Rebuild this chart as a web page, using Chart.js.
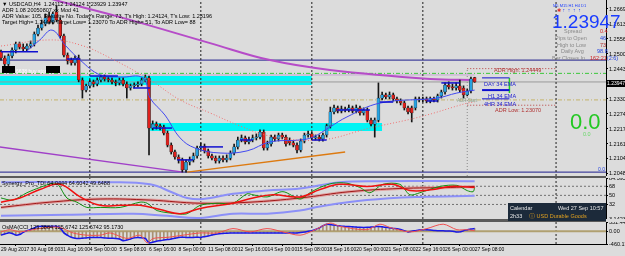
<!DOCTYPE html>
<html><head><meta charset="utf-8">
<script src="https://cdn.jsdelivr.net/npm/chart.js@4.4.1/dist/chart.umd.min.js"></script>
<style>
html,body{margin:0;padding:0;background:#dcdcdc;}
#wrap{position:relative;width:625px;height:256px;overflow:hidden;font-family:"Liberation Sans",Arial,sans-serif;background:#dcdcdc;}
canvas{position:absolute;left:0;}
.sep{position:absolute;left:0;width:606px;background:#5a5a5a;}
.t{position:absolute;white-space:nowrap;font-size:5.5px;line-height:6px;color:#000;}
</style></head><body>
<div id="wrap">
 <canvas id="cMain" width="625" height="176" style="top:0"></canvas>
 <div class="sep" style="top:176px;height:2px"></div>
 <canvas id="cSyn" width="625" height="41" style="top:178px"></canvas>
 <div class="sep" style="top:219px;height:3px"></div>
 <canvas id="cOsma" width="625" height="34" style="top:222px"></canvas>

 <div class="t" style="left:2px;top:1px">&#9660; USDCAD,H4&nbsp; 1.24112 1.24124 1.23929 1.23947</div>
 <div class="t" style="left:2px;top:7px">ADR 1.08 20050807 xx Mod 41</div>
 <div class="t" style="left:2px;top:13px">ADR Value: 105, Resultre No. Today's Range: 73, T's High: 1.24124, T's Low: 1.23196</div>
 <div class="t" style="left:2px;top:19px">Target High= 1.24449 Target Low= 1.23070 To ADR High= 51, To ADR Low= 88</div>

 <div class="t" style="left:2px;top:66px;background:#000;width:13px;height:7px"></div>
 <div class="t" style="left:16px;top:68px;color:#fff;font-size:5px">6638 buy stop</div>
 <div class="t" style="left:46px;top:66px;background:#000;width:14px;height:7px"></div>

 <div class="t" style="left:553px;top:3px;color:#1a3cff;font-size:4px">M5 M15 H1 H4 D1</div>
 <div class="t" style="left:557px;top:7px;color:#1a3cff;font-size:5px"><span style="color:#e02020">&#10033;</span> &#8593;&nbsp; &#8593;&nbsp; &#8593;&nbsp; &#8593;</div>
 <div class="t" style="left:552px;top:12px;color:#1a3cff;font-size:19px;line-height:19px">1.23947</div>
 <div class="t" style="left:564px;top:28px;color:#8a8a8a">Spread</div><div class="t" style="left:600px;top:28px;color:#d02020">0.4</div>
 <div class="t" style="left:555px;top:35px;color:#8a8a8a">Pips to Open</div><div class="t" style="left:600px;top:35px;color:#2040e0">46</div>
 <div class="t" style="left:557px;top:42px;color:#8a8a8a">High to Low</div><div class="t" style="left:600px;top:42px;color:#b03030">73</div>
 <div class="t" style="left:561px;top:48px;color:#8a8a8a">Daily Avg</div><div class="t" style="left:597px;top:48px;color:#2040e0">98.8</div>
 <div class="t" style="left:552px;top:55px;color:#8a8a8a">Bar Closes In</div><div class="t" style="left:590px;top:55px;color:#d02020">162:21<span style="color:#2040e0">(2:6)</span></div>

 <div class="t" style="left:494px;top:67px;color:#b03030">ADR High: 1.24449</div>
 <div class="t" style="left:484px;top:81px;color:#2020d0">DAY 34 EMA</div>
 <div class="t" style="left:488px;top:93px;color:#2020d0">H1 34 EMA</div>
 <div class="t" style="left:484px;top:101px;color:#2020d0">4HR 34 EMA</div>
 <div class="t" style="left:457px;top:98px;color:#8aa08a;font-size:4.5px">ADR Start</div>
 <div class="t" style="left:495px;top:107px;color:#b03030">ADR Low: 1.23070</div>
 <div class="t" style="left:570px;top:111px;color:#22c822;font-size:22px;line-height:22px">0.0</div>
 <div class="t" style="left:583px;top:131px;color:#66d866">0.0</div>
 <div class="t" style="left:598px;top:166px;color:#2040e0;font-size:5px">0.0</div>
 <div class="t" style="left:607px;top:80px;background:#000;color:#fff;width:18px;height:7px;font-size:5px;line-height:7px">1.23947</div>

 <div class="t" style="left:2px;top:180px">Synergy_Pro_TDI 64.0444 64.6042 49.6488</div>
 <div class="t" style="left:2px;top:224px">OsMA(CCI 125.3884 125.6742 125.6742 95.1730</div>

 <div class="t" style="left:508px;top:203px;width:98px;height:18px;background:#1c2a3a"></div>
 <div class="t" style="left:510px;top:205px;color:#e8e8e8">Calendar</div>
 <div class="t" style="left:558px;top:205px;color:#e8e8e8">Wed 27 Sep 10:57</div>
 <div class="t" style="left:510px;top:213px;color:#e8e8e8">2h33</div>
 <div class="t" style="left:529px;top:213px;color:#e0a020">&#9432; USD Durable Goods</div>
</div>
<script>
// ---------- data ----------
const tickIdx = [0,8,16,24,32,40,48,56,64,72,80,88,96,104,112,120,128];
const tickLabels = ['29 Aug 2017','30 Aug 08:00','31 Aug 16:00','4 Sep 00:00','5 Sep 08:00','6 Sep 16:00','8 Sep 00:00','11 Sep 08:00','12 Sep 16:00','14 Sep 00:00','15 Sep 08:00','18 Sep 16:00','20 Sep 00:00','21 Sep 08:00','22 Sep 16:00','26 Sep 00:00','27 Sep 08:00'];
const priceTicks = [1.26695,1.26130,1.25565,1.25000,1.24435,1.23305,1.22740,1.22175,1.21610,1.21045,1.20480];
const synTicks = [84.3957,68,50,32,3.1423];
const osmaTicks = [331.4461,0,-460.1713];

const opens = [1.2508,1.2485,1.2462,1.2493,1.2515,1.2538,1.2526,1.2519,1.2530,1.2538,
1.2575,1.2598,1.2613,1.2643,1.2621,1.2658,1.2628,1.2568,1.2496,1.2477,
1.2466,1.2485,1.2402,1.2364,1.2380,1.2395,1.2387,1.2402,1.2413,1.2406,
1.2402,1.2395,1.2391,1.2402,1.2387,1.2372,1.2380,1.2383,1.2387,1.2402,
1.2410,1.2221,1.2236,1.2229,1.2225,1.2202,1.2157,1.2131,1.2112,1.2101,
1.2063,1.2093,1.2101,1.2116,1.2146,1.2153,1.2135,1.2116,1.2108,1.2097,
1.2108,1.2101,1.2108,1.2127,1.2150,1.2176,1.2184,1.2169,1.2176,1.2184,
1.2187,1.2206,1.2146,1.2161,1.2187,1.2180,1.2195,1.2187,1.2176,1.2165,
1.2157,1.2138,1.2172,1.2195,1.2199,1.2184,1.2187,1.2180,1.2195,1.2229,
1.2282,1.2297,1.2285,1.2293,1.2289,1.2297,1.2285,1.2297,1.2278,1.2289,
1.2251,1.2236,1.2251,1.2334,1.2346,1.2338,1.2346,1.2331,1.2323,1.2316,
1.2297,1.2297,1.2297,1.2331,1.2327,1.2331,1.2323,1.2331,1.2327,1.2342,
1.2357,1.2383,1.2376,1.2372,1.2380,1.2372,1.2346,1.2361,1.24112];
const closes = [1.2485,1.2462,1.2493,1.2515,1.2538,1.2526,1.2519,1.2530,1.2538,1.2575,
1.2598,1.2613,1.2636,1.2621,1.2651,1.2628,1.2568,1.2496,1.2474,1.2466,
1.2485,1.2402,1.2364,1.2380,1.2395,1.2387,1.2402,1.2413,1.2406,1.2402,
1.2395,1.2391,1.2402,1.2387,1.2372,1.2380,1.2383,1.2387,1.2402,1.2410,
1.2221,1.2236,1.2229,1.2225,1.2202,1.2157,1.2131,1.2112,1.2101,1.2063,
1.2093,1.2101,1.2116,1.2146,1.2153,1.2135,1.2116,1.2108,1.2097,1.2108,
1.2101,1.2108,1.2127,1.2150,1.2176,1.2184,1.2169,1.2176,1.2184,1.2187,
1.2206,1.2146,1.2161,1.2187,1.2180,1.2195,1.2187,1.2161,1.2165,1.2157,
1.2138,1.2172,1.2195,1.2199,1.2184,1.2187,1.2180,1.2195,1.2229,1.2282,
1.2297,1.2285,1.2293,1.2289,1.2297,1.2285,1.2297,1.2278,1.2289,1.2251,
1.2236,1.2251,1.2334,1.2346,1.2338,1.2346,1.2331,1.2323,1.2316,1.2297,
1.2282,1.2278,1.2331,1.2327,1.2331,1.2323,1.2331,1.2327,1.2342,1.2357,
1.2383,1.2376,1.2372,1.2380,1.2364,1.2346,1.2361,1.2406,1.23947];
const highs = [1.2515,1.2493,1.2500,1.2523,1.2545,1.2545,1.2538,1.2538,1.2549,1.2583,
1.2609,1.2628,1.2651,1.2658,1.2658,1.2681,1.2636,1.2575,1.2504,1.2485,
1.2493,1.2496,1.2410,1.2387,1.2402,1.2402,1.2410,1.2421,1.2421,1.2413,
1.2410,1.2402,1.2410,1.2410,1.2395,1.2387,1.2391,1.2395,1.2410,1.2421,
1.2417,1.2248,1.2244,1.2236,1.2232,1.2210,1.2165,1.2138,1.2120,1.2108,
1.2101,1.2112,1.2127,1.2153,1.2165,1.2161,1.2142,1.2123,1.2116,1.2116,
1.2116,1.2120,1.2135,1.2161,1.2187,1.2195,1.2191,1.2187,1.2195,1.2199,
1.2214,1.2214,1.2172,1.2195,1.2195,1.2202,1.2202,1.2195,1.2184,1.2172,
1.2165,1.2180,1.2202,1.2210,1.2206,1.2195,1.2195,1.2202,1.2236,1.2300,
1.2308,1.2304,1.2304,1.2300,1.2308,1.2304,1.2308,1.2304,1.2297,1.2297,
1.2259,1.2259,1.2391,1.2357,1.2353,1.2357,1.2353,1.2338,1.2331,1.2323,
1.2304,1.2304,1.2338,1.2338,1.2338,1.2338,1.2338,1.2338,1.2349,1.2364,
1.2391,1.2395,1.2387,1.2391,1.2402,1.2380,1.2368,1.2413,1.24124];
const lows = [1.2477,1.2455,1.2455,1.2485,1.2504,1.2519,1.2511,1.2511,1.2523,1.2530,
1.2568,1.2590,1.2606,1.2613,1.2613,1.2621,1.2560,1.2489,1.2462,1.2458,
1.2458,1.2395,1.2334,1.2357,1.2372,1.2376,1.2380,1.2395,1.2398,1.2395,
1.2387,1.2380,1.2383,1.2380,1.2334,1.2364,1.2372,1.2376,1.2380,1.2395,
1.2120,1.2214,1.2217,1.2214,1.2195,1.2150,1.2123,1.2104,1.2089,1.2055,
1.2055,1.2082,1.2093,1.2108,1.2138,1.2127,1.2108,1.2101,1.2089,1.2089,
1.2093,1.2093,1.2101,1.2120,1.2142,1.2169,1.2161,1.2161,1.2169,1.2176,
1.2180,1.2138,1.2138,1.2153,1.2172,1.2172,1.2180,1.2153,1.2157,1.2150,
1.2127,1.2131,1.2165,1.2187,1.2176,1.2176,1.2172,1.2172,1.2187,1.2221,
1.2274,1.2278,1.2278,1.2282,1.2282,1.2278,1.2278,1.2270,1.2270,1.2244,
1.2229,1.2187,1.2244,1.2327,1.2331,1.2331,1.2323,1.2316,1.2308,1.2289,
1.2274,1.2244,1.2289,1.2319,1.2319,1.2316,1.2316,1.2319,1.2319,1.2334,
1.2349,1.2368,1.2364,1.2364,1.2357,1.2334,1.2342,1.2353,1.23929];

// moving averages / trend objects: [bar index, price]
const emaBlue = [[7,1.2511],[10.5,1.2553],[13.8,1.2590],[17.3,1.2534],[21.4,1.2477],[26.8,1.2421],[32.2,1.2413],[38.4,1.2410],[40.3,1.2334],[44.3,1.2270],[48.4,1.2184],[52.4,1.2146],[59.2,1.2127],[66.5,1.2135],[72.7,1.2169],[80.8,1.2176],[84.3,1.2187],[88.9,1.2225],[93.5,1.2263],[102.4,1.2315],[117.8,1.2334],[123.2,1.2353],[128,1.2364]];
const maDotted = [[0,1.2530],[13.2,1.2553],[21.4,1.2534],[29.5,1.2485],[40.3,1.2402],[48.4,1.2327],[56.5,1.2278],[64.6,1.2229],[72.7,1.2191],[86.2,1.2176],[99.7,1.2221],[113.2,1.2263],[126,1.2315],[128,1.2319]];
const maPurple = [[11.9,1.2715],[14.6,1.2703],[32.2,1.2639],[56.5,1.2541],[72.7,1.2477],[88.9,1.2440],[116,1.2406],[128,1.2402]];
const trendPurple = [[-0.3,1.2150],[49.2,1.2055]];
const trendOrange = [[50.3,1.2055],[93,1.2131]];
// horizontal levels
const levelNavy = [1.2477, 1.2055];
const levelGreen = 1.2427;
const levelOlive = 1.2327;
const levelLavender = 1.2421;
const bidPrice = 1.23947;
const adrHigh = 1.24449, adrLow = 1.23070;
const adrFrom = 126, adrTo = 150;
// supply/demand zones
const zoneStart = [-0.3, 40.3], zoneEnd = [84, 103], zoneTop = [1.2417, 1.2240], zoneBottom = [1.2383, 1.2210];
// short pivot segments [from, to, price]
const pivots = [[0,10,1.2508],[17.8,21.4,1.2481],[24,31.6,1.2417],[35.7,40.3,1.2372],[41,46.2,1.2221],[47.6,51.9,1.2101],[53.8,60,1.2150],[64.6,68,1.2176],[84,88,1.2176],[90.8,99.7,1.2289],[102.4,106,1.2319],[115,118,1.2323],[119,124,1.2391]];
const emaTags = [[130,137.4,1.2410],[130,137.4,1.2364],[130,137.4,1.2331]];
const weekSeps = [24, 54, 84, 114, 150];
const dayStart = 126;

// Synergy TDI
const tdiGreen = [[0,44.8],[3.2,40.6],[7,55.2],[10.5,65.6],[14,74],[15.4,71.9],[17.8,44.8],[20.5,36.5],[23.2,26.1],[26.8,26.1],[32.2,26.1],[37.6,36.5],[39.5,34.4],[42.2,19.8],[47.6,13.6],[50.3,13.6],[53.8,30.2],[58.4,34.4],[62.7,34.4],[66.5,53.1],[68.1,51.1],[71.9,46.9],[76.2,57.3],[80.8,42.7],[83.5,55.2],[86.2,65.6],[89.7,74],[93.5,74],[97,65.6],[99.7,55.2],[103.2,71.9],[107.8,71.9],[110.5,51.1],[113.2,55.2],[118.6,67.7],[123.2,69.8],[126,59.4],[127.6,57.3],[128,65.6]];
const tdiRed = [[0,36.5],[5.1,44.8],[10.5,61.5],[15.9,71.9],[21.4,46.9],[26.8,30.2],[32.2,30.2],[37.6,30.2],[43,21.9],[48.4,13.6],[53.8,24],[62.7,34.4],[68.1,44.8],[73.5,51.1],[80.8,46.9],[86.2,61.5],[91.6,71.9],[98.9,67.7],[105.9,71.9],[110.5,59.4],[116.8,61.5],[121.4,67.7],[128,65.6]];
const tdiBase = [[0,26.1],[13.2,36.5],[26.8,42.7],[40.3,40.6],[53.8,34.4],[67.3,36.5],[80.8,44.8],[94.3,57.3],[107.8,63.6],[121.4,65.6],[128,67.7]];
const tdiUpper = [[0,76.1],[29.5,76.1],[40.3,71.9],[46.5,55.2],[50.3,44.8],[54.6,42.7],[62.7,53.1],[71.9,59.4],[80.8,63.6],[91.6,76.1],[102.4,78.2],[126,78.2],[128,78.2]];
const tdiLower = [[0,9.4],[17.8,11.5],[35.7,13.6],[44.9,9.4],[53.8,5.2],[62.7,13.6],[71.9,13.6],[80.8,19.8],[86.2,28.1],[98.9,40.6],[113.2,46.9],[128,49]];
const tdiLevels = [68, 50, 32];

// OsMA / CCI
const osmaHist = [-140,-100,-60,-80,-140,-120,-40,20,60,120,
170,180,175,170,180,175,120,-60,-150,-220,
-250,-260,-250,-240,-230,-225,-222,-230,-240,-250,
-255,-260,-280,-340,-320,-280,-240,-222,-240,-261,
-420,-400,-360,-340,-320,-300,-280,-250,-222,-220,
-222,-222,-222,-220,-222,-200,-170,-140,-110,-90,
-80,-70,-63,-63,-63,-60,-63,-63,-63,-63,
-63,-63,-63,-63,-63,-63,-63,-63,-63,-63,
-63,-50,-30,0,16,60,120,200,253,240,
220,200,180,174,170,160,150,140,135,140,
150,160,174,160,140,120,100,90,60,20,
-24,0,20,40,55,50,40,30,20,16,
10,5,0,-24,-24,20,50,80,95];
const osmaRed = [[0,-24],[2.4,55],[5.1,-24],[8.6,55],[12.4,135],[15.9,135],[19.5,-63],[23.2,-143],[26.8,-143],[29.5,-63],[34,-261],[37.6,-143],[39.5,-420],[41.1,-261],[44.9,-222],[49.2,-143],[53.8,-63],[58.4,-63],[62.7,95],[67.3,-24],[71.9,95],[76.2,-24],[80.8,-143],[84.3,16],[88.9,293],[91.6,174],[98.9,55],[102.4,253],[105.1,135],[110.5,-24],[115.1,95],[119.5,253],[123.2,55],[126,55],[128,16]];

// ---------- helpers ----------
const xMin = -0.27, xMax = 163.5;
const pts = a => a.map(p => ({x:p[0], y:p[1]}));
const idx = opens.map((_, i) => i);
const FONT = {family:'"Liberation Sans", Arial, sans-serif', size:5.5};
const XFONT = {family:'"Liberation Sans", Arial, sans-serif', size:5};
const line = (data, color, width, extra) => Object.assign({type:'line', data, borderColor:color, borderWidth:width, pointRadius:0, fill:false, tension:0}, extra||{});
const hline = (price, from, to, color, width, extra) => line([{x:from,y:price},{x:to,y:price}], color, width, extra);
const vline = (x, lo, hi, color, extra) => line([{x,y:lo},{x,y:hi}], color, 1, extra);
function yAxis(min, max, ticks, fmt) {
  return {position:'right', min, max,
    afterBuildTicks: s => { s.ticks = ticks.map(v => ({value:v})); },
    afterFit: s => { s.width = 19; s.paddingTop = 0; s.paddingBottom = 0; },
    ticks:{callback: fmt, font:FONT, color:'#000', padding:1, autoSkip:false},
    grid:{drawOnChartArea:false, tickLength:2, color:'#000'},
    border:{display:true, color:'#000'}};
}
const xHidden = {type:'linear', min:xMin, max:xMax, display:false, offset:false};
const base = {responsive:false, animation:false, events:[], layout:{padding:0},
  plugins:{legend:{display:false}, tooltip:{enabled:false}}};

// ---------- main price chart ----------
const pMin = 1.20404, pMax = 1.27034;
const mainSets = [];
zoneStart.forEach((s, k) => mainSets.push(line([{x:s,y:zoneTop[k]},{x:zoneEnd[k],y:zoneTop[k]}], 'rgba(0,0,0,0)', 0, {fill:{value:zoneBottom[k]}, backgroundColor:'#00f4f4', order:30})));
mainSets.push(hline(levelLavender, xMin, 128, '#c9a6d6', 1, {order:25}));
levelNavy.forEach(p => mainSets.push(hline(p, xMin, xMax, '#1c1c8c', 1, {order:25})));
mainSets.push(hline(levelGreen, xMin, xMax, '#3cc83c', 1, {borderDash:[4,2,1,2], order:25}));
mainSets.push(hline(levelOlive, xMin, xMax, '#c4b46a', 1, {borderDash:[4,2,1,2], order:25}));
mainSets.push(hline(bidPrice, xMin, xMax, '#9a9a9a', 1, {order:25}));
mainSets.push(hline(adrHigh, adrFrom, adrTo, '#b84040', 1, {borderDash:[1,2], order:25}));
mainSets.push(hline(adrLow, adrFrom, adrTo, '#b84040', 1, {borderDash:[1,2], order:25}));
weekSeps.forEach(s => mainSets.push(vline(s, pMin, pMax, '#202020', {borderDash:[2,2], order:24})));
mainSets.push(vline(dayStart, pMin, adrHigh, '#8a8a8a', {borderDash:[1,2], order:24}));
mainSets.push(line(pts(trendPurple), '#a040c8', 1.5, {order:20}));
mainSets.push(line(pts(trendOrange), '#dd7a10', 1.5, {order:20}));
mainSets.push(line(pts(maPurple), '#b64cc8', 2, {tension:0.4, order:20}));
mainSets.push({type:'bar', data:idx.map(i => ({x:i, y:[lows[i], highs[i]]})), backgroundColor:'#151515', barThickness:1, grouped:false, order:12});
mainSets.push({type:'bar', data:idx.map(i => ({x:i, y:[opens[i], closes[i]]})),
  backgroundColor:idx.map(i => closes[i] >= opens[i] ? '#27a2e0' : '#e0201c'),
  borderColor:'#202020', borderWidth:0.5, borderSkipped:false, minBarLength:1, barThickness:3, grouped:false, order:11});
mainSets.push(line(pts(maDotted), '#f07070', 1, {borderDash:[1,2], tension:0.4, order:8}));
mainSets.push(line(pts(emaBlue), '#4048f0', 1, {tension:0.4, order:8}));
pivots.forEach(p => mainSets.push(hline(p[2], p[0], p[1], '#1010d0', 1.5, {order:5})));
emaTags.forEach((p, k) => mainSets.push(hline(p[2], p[0], p[1], '#1010d0', k === 1 ? 2 : 1, {order:5})));
mainSets.push(vline(137.4, 1.2353, 1.2410, '#20d020', {borderWidth:1.5, order:5}));

new Chart(document.getElementById('cMain'), {data:{datasets:mainSets}, options:Object.assign({}, base, {
  scales:{x:xHidden, y:yAxis(pMin, pMax, priceTicks, v => v.toFixed(5))}})});

// ---------- Synergy TDI ----------
const sMin = 3.1423, sMax = 84.3957;
const synSets = [];
tdiLevels.forEach(l => synSets.push(hline(l, xMin, xMax, '#707070', 1, {borderDash:[2,2], order:30})));
weekSeps.forEach(s => synSets.push(vline(s, sMin, sMax, '#202020', {borderDash:[2,2], order:30})));
synSets.push(line(pts(tdiUpper), '#8c90f8', 2, {tension:0.4, order:20}));
synSets.push(line(pts(tdiLower), '#8c90f8', 2, {tension:0.4, order:20}));
synSets.push(line(pts(tdiBase), '#e0a0a0', 3, {tension:0.4, order:19}));
synSets.push(line(pts(tdiBase), '#a01818', 1, {tension:0.4, order:18}));
synSets.push(line(pts(tdiGreen), '#109010', 1, {tension:0.3, order:10}));
synSets.push(line(pts(tdiRed), '#f01010', 1.5, {tension:0.4, order:9}));
new Chart(document.getElementById('cSyn'), {data:{datasets:synSets}, options:Object.assign({}, base, {
  scales:{x:xHidden, y:yAxis(sMin, sMax, synTicks, v => String(v))}})});

// ---------- OsMA ----------
const oMin = -460.1713, oMax = 331.4461;
const osSets = [];
weekSeps.forEach(s => osSets.push(vline(s, oMin, oMax, '#202020', {borderDash:[2,2], order:30})));
osSets.push(hline(0, xMin, xMax, '#b0a070', 2, {order:25}));
osSets.push({type:'bar', data:idx.map(i => ({x:i, y:osmaHist[i]})), backgroundColor:'#a89070', barThickness:1, grouped:false, order:20});
osSets.push(line(idx.map(i => ({x:i, y:osmaHist[i]})), '#1818e8', 1.5, {tension:0.3, order:10}));
osSets.push(line(pts(osmaRed), '#f05050', 1, {tension:0.3, order:9}));
new Chart(document.getElementById('cOsma'), {data:{datasets:osSets}, options:Object.assign({}, base, {
  scales:{
    x:{type:'linear', min:xMin, max:xMax, offset:false,
      afterBuildTicks: s => { s.ticks = tickIdx.map(v => ({value:v})); },
      afterFit: s => { s.height = 12; s.paddingLeft = 0; s.paddingRight = 0; },
      ticks:{callback: v => tickLabels[tickIdx.indexOf(v)], font:XFONT, color:'#000', align:'start', maxRotation:0, autoSkip:false, padding:1},
      grid:{drawOnChartArea:false, tickLength:2, color:'#000'}, border:{display:true, color:'#000'}},
    y:yAxis(oMin, oMax, osmaTicks, v => v === 0 ? '0.00' : String(v))}})});
</script>
</body></html>
